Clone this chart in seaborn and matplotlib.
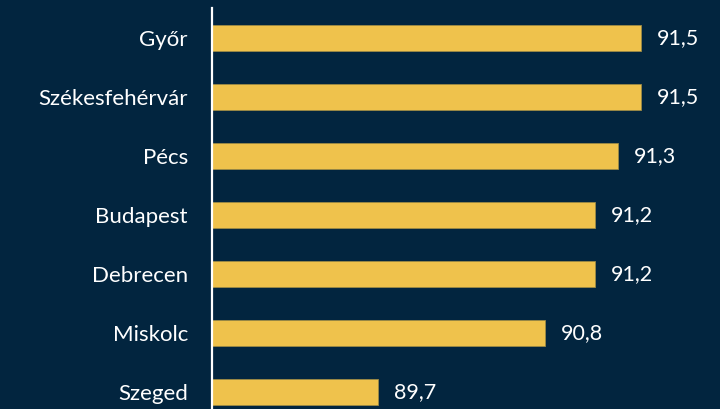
import matplotlib
matplotlib.use("Agg")
import matplotlib.pyplot as plt
import seaborn as sns
import pandas as pd

cities = ["Győr", "Székesfehérvár", "Pécs", "Budapest", "Debrecen", "Miskolc", "Szeged"]
values = [91.5, 91.5, 91.34, 91.18, 91.18, 90.84, 89.7]

BG = "#02253f"
BAR = "#efc24c"

sns.set_theme(style="white")
plt.rcParams["font.family"] = ["Lato", "DejaVu Sans"]

df = pd.DataFrame({"city": cities, "value": values})

fig = plt.figure(figsize=(7.2, 4.09), dpi=100)
fig.patch.set_facecolor(BG)
ax = fig.add_axes([212 / 720, 0, 508 / 720, 401 / 409])
ax.set_facecolor(BG)

sns.barplot(data=df, x="value", y="city", orient="h", color=BAR, width=0.44,
            edgecolor="#9c8a45", linewidth=0.6, ax=ax, saturation=1)

ax.set_xlim(88.56, 88.56 + 508 / 146)
ax.set_ylim(6.288, -0.505)

for c in ax.containers:
    ax.bar_label(c, labels=[f"{v:.1f}".replace(".", ",") for v in values],
                 padding=11.5, color="white", fontsize=15.5)

for s in ["top", "right", "bottom"]:
    ax.spines[s].set_visible(False)
ax.spines["left"].set_color("white")
ax.spines["left"].set_linewidth(1.6)
ax.set_xlabel("")
ax.set_ylabel("")
ax.set_xticks([])
ax.tick_params(axis="y", length=0, pad=17.3, labelsize=16, labelcolor="white")

fig.savefig("out.png", dpi=100, facecolor=BG)
